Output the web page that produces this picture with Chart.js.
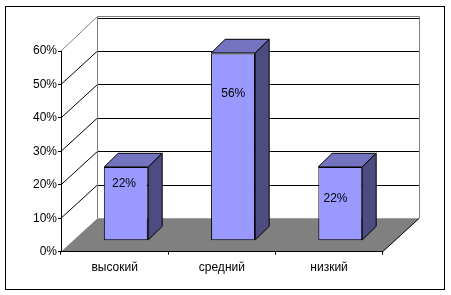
<!DOCTYPE html>
<html>
<head>
<meta charset="utf-8">
<script src="https://cdn.jsdelivr.net/npm/chart.js@4"></script>
<style>
html,body{margin:0;padding:0;background:#fff;}
canvas{display:block;}
</style>
</head>
<body>
<canvas id="c" width="451" height="295"></canvas>
<script>
// ---- data ----
const categories = ['высокий', 'средний', 'низкий'];
const values = [0.22, 0.56, 0.22];
const valueLabels = ['22%', '56%', '22%'];
const yTickValues = [0, 0.1, 0.2, 0.3, 0.4, 0.5, 0.6];

// ---- styles / geometry ----
const FONT = '"Liberation Sans", Arial, sans-serif';
const DEPTH = {x: 36.6, y: -33.5};      // offset of back wall from front plane
const BAR_SHIFT = {x: 11.2, y: -11};    // bar front faces sit inside the floor
const BAR_DEPTH = {x: 14, y: -13.7};    // depth of each 3D bar
const LABEL_OFFSETS = [[-1.8, 16.2], [0.2, 40.7], [-4.8, 31.7]];
const COLORS = {front: '#9999FF', top: '#7373C0', side: '#4C4C80', floor: '#808080', wall: '#808080'};

const px = v => Math.round(v) + 0.5;

const threeD = {
  id: 'threeD',
  beforeDraw(chart) {
    const {ctx, chartArea: a, scales: {y}} = chart;
    ctx.save();
    ctx.fillStyle = '#fff';
    ctx.fillRect(0, 0, chart.width, chart.height);
    ctx.lineWidth = 1;
    // outer frame
    ctx.strokeStyle = '#000';
    ctx.strokeRect(5.5, 6.5, 439, 283);

    const b0 = y.getPixelForValue(0);
    const top = y.getPixelForValue(yTickValues[yTickValues.length - 1]);
    // floor
    ctx.fillStyle = COLORS.floor;
    ctx.beginPath();
    ctx.moveTo(a.left, b0);
    ctx.lineTo(a.right, b0);
    ctx.lineTo(a.right + DEPTH.x, b0 + DEPTH.y);
    ctx.lineTo(a.left + DEPTH.x, b0 + DEPTH.y);
    ctx.closePath();
    ctx.fill();
    // floor right edge
    ctx.strokeStyle = '#000';
    ctx.beginPath();
    ctx.moveTo(a.right, b0);
    ctx.lineTo(a.right + DEPTH.x, b0 + DEPTH.y);
    ctx.stroke();

    // back wall gridlines + side wall diagonals
    yTickValues.forEach(v => {
      if (v === 0) return;
      const py = y.getPixelForValue(v);
      ctx.strokeStyle = '#000';
      ctx.beginPath();
      ctx.moveTo(a.left + DEPTH.x, px(py + DEPTH.y));
      ctx.lineTo(a.right + DEPTH.x, px(py + DEPTH.y));
      ctx.stroke();
      if (v !== yTickValues[yTickValues.length - 1]) {
        ctx.beginPath();
        ctx.moveTo(a.left, py);
        ctx.lineTo(a.left + DEPTH.x, py + DEPTH.y);
        ctx.stroke();
      }
    });
    // wall outlines (grey)
    ctx.strokeStyle = COLORS.wall;
    const wl = px(a.left + DEPTH.x - 1), wr = px(a.right + DEPTH.x), wt = px(top + DEPTH.y - 2), wb = b0 + DEPTH.y;
    ctx.beginPath();
    ctx.moveTo(wl, wb); ctx.lineTo(wl, wt); ctx.lineTo(wr, wt); ctx.lineTo(wr, wb);
    ctx.stroke();
    ctx.beginPath();
    ctx.moveTo(a.left, top);
    ctx.lineTo(wl, wt);
    ctx.stroke();
    ctx.restore();
  },
  beforeDatasetsDraw(chart) {
    chart.ctx.save();
    chart.ctx.translate(BAR_SHIFT.x, BAR_SHIFT.y);
  },
  afterDatasetsDraw(chart) {
    const ctx = chart.ctx;
    const meta = chart.getDatasetMeta(0);
    ctx.lineWidth = 1;
    ctx.strokeStyle = '#000';
    meta.data.forEach(bar => {
      const l = Math.round(bar.x - bar.width / 2), r = Math.round(bar.x + bar.width / 2);
      const t = Math.round(bar.y), b = Math.round(bar.base);
      const dx = BAR_DEPTH.x, dy = BAR_DEPTH.y;
      // top face
      ctx.fillStyle = COLORS.top;
      ctx.beginPath();
      ctx.moveTo(l, t); ctx.lineTo(l + dx, t + dy); ctx.lineTo(r + dx, t + dy); ctx.lineTo(r, t);
      ctx.closePath(); ctx.fill(); ctx.stroke();
      // side face
      ctx.fillStyle = COLORS.side;
      ctx.beginPath();
      ctx.moveTo(r, t); ctx.lineTo(r + dx, t + dy); ctx.lineTo(r + dx, b + dy); ctx.lineTo(r, b);
      ctx.closePath(); ctx.fill(); ctx.stroke();
    });
    // value labels
    ctx.fillStyle = '#000';
    ctx.font = '12px ' + FONT;
    ctx.textAlign = 'center';
    ctx.textBaseline = 'middle';
    meta.data.forEach((bar, i) => {
      const o = LABEL_OFFSETS[i];
      ctx.fillText(valueLabels[i], bar.x + o[0], bar.y + o[1]);
    });
    ctx.restore();
  }
};

new Chart(document.getElementById('c'), {
  type: 'bar',
  data: {
    labels: categories,
    datasets: [{
      data: values,
      backgroundColor: COLORS.front,
      borderColor: '#000',
      borderWidth: 1,
      borderSkipped: false,
      categoryPercentage: 1,
      barPercentage: 0.41,
      clip: false
    }]
  },
  options: {
    responsive: false,
    animation: false,
    events: [],
    layout: {padding: {left: 0, top: 51, right: 68.3, bottom: 0}},
    plugins: {legend: {display: false}, tooltip: {enabled: false}},
    scales: {
      x: {
        afterFit(s) { s.height = 43.3; },
        grid: {drawOnChartArea: false, drawTicks: true, tickLength: 3, color: '#000', offset: true},
        border: {color: '#000', width: 1},
        ticks: {color: '#000', font: {family: FONT, size: 12}, padding: 6, maxRotation: 0}
      },
      y: {
        min: 0, max: 0.6,
        afterFit(s) { s.width = 61; },
        afterBuildTicks(s) { s.ticks = yTickValues.map(v => ({value: v})); },
        grid: {drawOnChartArea: false, drawTicks: true, tickLength: 3, color: '#000'},
        border: {color: '#000', width: 1},
        ticks: {
          color: '#000', font: {family: FONT, size: 12}, padding: 1,
          callback: v => Math.round(v * 100) + '%'
        }
      }
    }
  },
  plugins: [threeD]
});
</script>
</body>
</html>
